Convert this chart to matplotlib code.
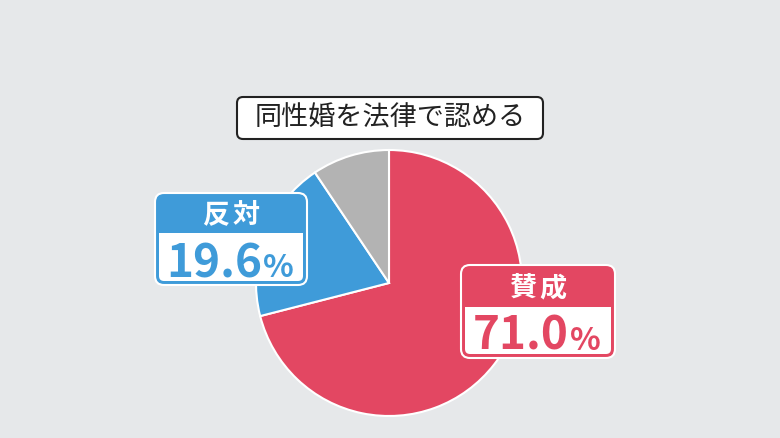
import matplotlib.pyplot as plt
from matplotlib.patches import FancyBboxPatch

plt.rcParams['font.family'] = ['Noto Sans CJK JP', 'DejaVu Sans']

# data
title = "同性婚を法律で認める"
labels = ["賛成", "反対", "その他"]
values = [71.0, 19.6, 9.4]
colors = ["#E34762", "#3F9BD9", "#B3B3B3"]

BG = "#E6E8EA"
W, H = 780, 438


def yy(y):
    # image pixel row -> axes y (upward)
    return H - y


def label_box(ax, x0, y0, x1, y1, ymid, color):
    '''
    Two-part label box: colored header, white panel below
    '''
    r = 9
    ax.add_patch(FancyBboxPatch((x0, yy(y1)), x1 - x0, y1 - y0,
                                boxstyle=f"round,pad=0,rounding_size={r}",
                                fc=color, ec="white", lw=1.5, zorder=5))
    ins = 4
    ax.add_patch(FancyBboxPatch((x0 + ins, yy(y1) + ins), x1 - x0 - 2 * ins, y1 - ymid - ins,
                                boxstyle=f"round,pad=0,rounding_size={r - 4}",
                                fc="white", ec="none", zorder=6))
    ax.add_patch(plt.Rectangle((x0 + ins, yy(ymid) - 10), x1 - x0 - 2 * ins, 10,
                               fc="white", ec="none", zorder=6))


fig = plt.figure(figsize=(W / 100, H / 100), dpi=100, facecolor=BG)
ax = fig.add_axes([0, 0, 1, 1])

ax.pie(values, colors=colors, startangle=90, counterclock=False,
       center=(389, yy(283)), radius=133,
       wedgeprops=dict(edgecolor="white", linewidth=1.5))
ax.set_xlim(0, W)
ax.set_ylim(0, H)
ax.set_aspect("equal")
ax.axis("off")

# title box
ax.add_patch(FancyBboxPatch((237, yy(139)), 306, 42,
                            boxstyle="round,pad=0,rounding_size=6",
                            fc="white", ec="#222222", lw=1.5, zorder=5))
ax.text(390, yy(118), title, fontsize=19.5, color="#222222",
        ha="center", va="center", zorder=6)

renderer = fig.canvas.get_renderer()

boxes = [
    # label index, x0, y0, x1, y1, header bottom
    (0, 461, 265, 615, 358, 307),
    (1, 155, 193, 307, 285, 233),
]
for i, x0, y0, x1, y1, ym in boxes:
    c = colors[i]
    label_box(ax, x0, y0, x1, y1, ym, c)
    cx = (x0 + x1) / 2
    hy = yy((y0 + ym) / 2) - 2
    for k, ch in enumerate(labels[i]):
        ax.text(cx + (k - 0.5) * 30, hy, ch, color="white", fontsize=19.5,
                fontweight="bold", ha="center", va="center", zorder=7)

    base = yy(y1 - 8)
    t_num = ax.text(0, base, f"{values[i]:.1f}", color=c, fontsize=33,
                    fontweight="bold", ha="left", va="baseline", zorder=7)
    t_pct = ax.text(0, base, "%", color=c, fontsize=23,
                    fontweight="bold", ha="left", va="baseline", zorder=7)
    w_num = t_num.get_window_extent(renderer).width
    w_pct = t_pct.get_window_extent(renderer).width
    gap = 1
    left = cx - 1 - (w_num + gap + w_pct) / 2
    t_num.set_x(left)
    t_pct.set_x(left + w_num + gap)

fig.savefig("out.png", dpi=100, facecolor=BG)
